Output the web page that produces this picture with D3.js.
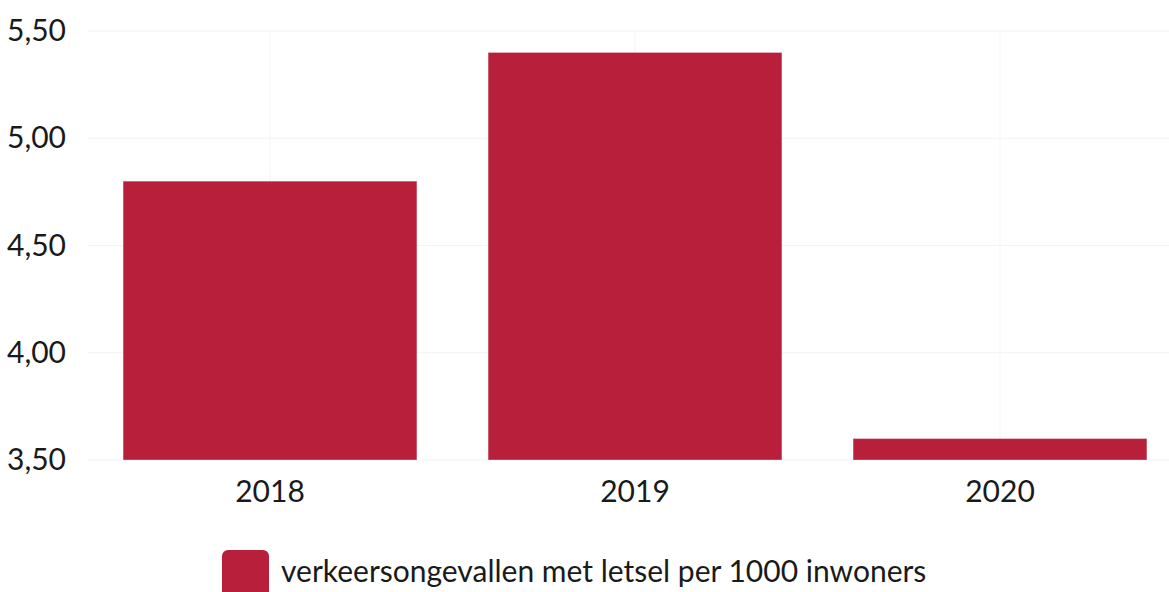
<!DOCTYPE html>
<html><head><meta charset="utf-8">
<script src="https://cdn.jsdelivr.net/npm/d3@7"></script>
<style>body{margin:0;background:#fff}svg{display:block}</style>
</head><body>
<svg id="c" width="1169" height="592"></svg>
<script>
const categories = ["2018", "2019", "2020"];
const values = [4.80, 5.40, 3.60];
const yTicks = [3.5, 4.0, 4.5, 5.0, 5.5];
const seriesName = "verkeersongevallen met letsel per 1000 inwoners";
const color = "#b71f3a";

const svg = d3.select("#c");
const x = d3.scaleBand().domain(categories).range([87.5, 1182.5]).paddingInner(0.195).paddingOuter(0.0975);
const y = d3.scaleLinear().domain([3.5, 5.5]).range([460, 31]);
const fmt = v => d3.format(".2f")(v).replace(".", ",");

svg.append("g").selectAll("line").data(yTicks).join("line")
  .attr("x1", 87).attr("x2", 1169)
  .attr("y1", d => y(d)).attr("y2", d => y(d))
  .attr("stroke", "#f3f3f3").attr("stroke-width", 1.2);
svg.append("g").selectAll("line").data(categories).join("line")
  .attr("x1", d => x(d) + x.bandwidth()/2).attr("x2", d => x(d) + x.bandwidth()/2)
  .attr("y1", 31).attr("y2", 460)
  .attr("stroke", "#f5f5f5").attr("stroke-width", 1);

const yAxis = d3.axisLeft(y).tickValues(yTicks).tickFormat(fmt).tickSize(0).tickPadding(0);
svg.append("g").attr("transform", "translate(66,0)").call(yAxis)
  .call(g => g.select(".domain").remove())
  .selectAll("text").attr("font-family", "Lato").attr("font-size", 30).attr("fill", "#1a1a1a").attr("dy", "0.32em");

svg.append("g").selectAll("rect").data(values).join("rect")
  .attr("x", (d, i) => x(categories[i]))
  .attr("width", x.bandwidth())
  .attr("y", d => y(d))
  .attr("height", d => y(3.5) - y(d))
  .attr("fill", color)
  .attr("stroke", "rgba(255,255,255,0.35)").attr("stroke-width", 1);

const xAxis = d3.axisBottom(x).tickSize(0).tickPadding(0);
svg.append("g").attr("transform", "translate(0,481)").call(xAxis)
  .call(g => g.select(".domain").remove())
  .selectAll("text").attr("font-family", "Lato").attr("font-size", 30).attr("fill", "#1a1a1a").attr("dy", "0.71em");

const lg = svg.append("g");
lg.append("rect").attr("x", 222).attr("y", 550).attr("width", 47).attr("height", 50).attr("rx", 6).attr("fill", color);
lg.append("text").attr("x", 281).attr("y", 582).text(seriesName)
  .attr("font-family", "Lato").attr("font-size", 30).attr("fill", "#1a1a1a");
</script>
</body></html>
